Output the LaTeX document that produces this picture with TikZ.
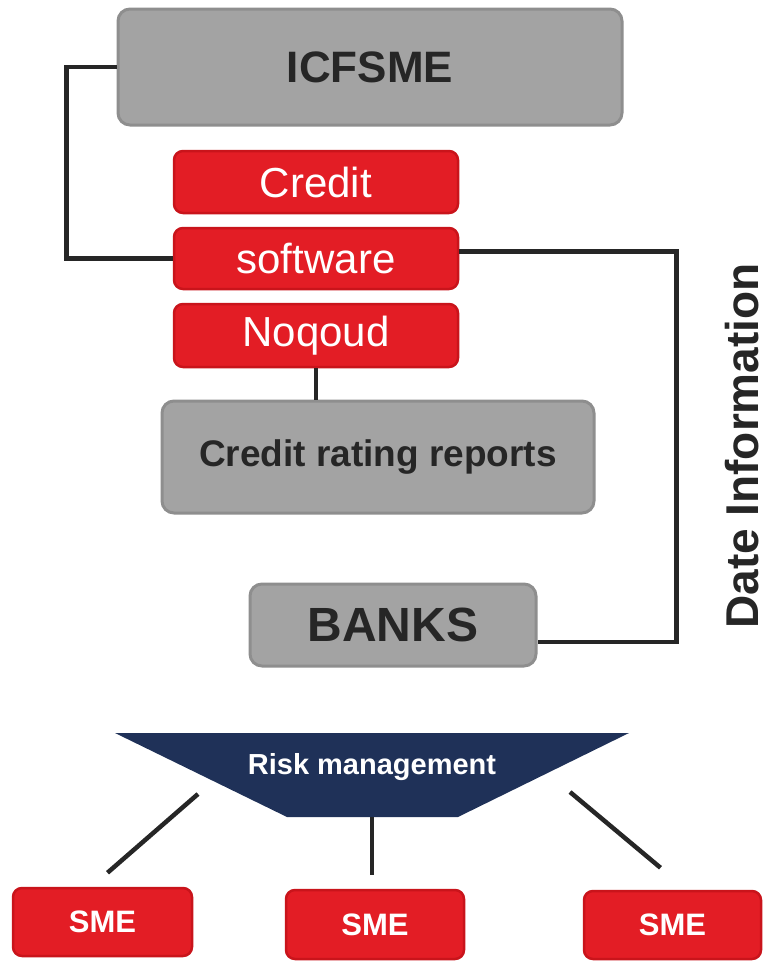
\documentclass[tikz,border=0pt]{standalone}
\usepackage{fontspec}
\setmainfont{Liberation Sans}
\usetikzlibrary{positioning}
\definecolor{boxred}{HTML}{E31D25}
\definecolor{boxredrim}{HTML}{C9141B}
\definecolor{boxgray}{HTML}{A3A3A3}
\definecolor{boxgrayrim}{HTML}{8E8E8E}
\definecolor{navy}{HTML}{1F3158}
\definecolor{ink}{HTML}{262626}
\begin{document}
\begin{tikzpicture}[x=1pt,y=-1pt,
	graybox/.style={draw=boxgrayrim, line width=3pt, fill=boxgray, rounded corners=12pt, text=ink, font=\bfseries},
	redbox/.style={draw=boxredrim, line width=2.5pt, fill=boxred, rounded corners=9pt, text=white},
	link/.style={draw=ink, line width=4.5pt}]
	\useasboundingbox (0,0) rectangle (769,964);
	%--- top part ---
	\node[graybox, minimum width=504pt, minimum height=116pt] (icfsme) at (370,67) {\fontsize{44}{50}\selectfont ICFSME};
	\node[redbox, minimum width=284pt, minimum height=62pt] (credit) at (316,182) {\fontsize{42}{48}\selectfont Credit};
	\node[redbox, minimum width=284pt, minimum height=61pt] (software) at (316,258.5) {\fontsize{42}{48}\selectfont software};
	\node[redbox, minimum width=284pt, minimum height=63pt] (noqoud) at (316,335.5) {\fontsize{42}{48}\selectfont Noqoud};
	\node[graybox, minimum width=432pt, minimum height=112pt] (rating) at (378,457) {\fontsize{37}{42}\selectfont Credit rating reports};
	\node[graybox, minimum width=286pt, minimum height=82pt] (banks) at (393,625) {\fontsize{48}{54}\selectfont BANKS};
	\node[rotate=90, text=ink, font=\bfseries, inner sep=0pt] (date) at (742,446) {\fontsize{46}{52}\selectfont Date Information};
	% connectors
	\draw[link] (icfsme.west) -- ++(-50,0) |- (software.west);
	\draw[link] ([yshift=7pt]software.east) -- ++(217,0) |- ([yshift=-17pt]banks.east);
	\draw[link] (noqoud.south) -- (noqoud.south |- rating.north);
	%--- risk management ---
	\fill[navy] (115,733) -- (629,733) -- (458,817) -- (287,817) -- cycle;
	\node[text=white, font=\bfseries] (risk) at (372,767) {\fontsize{29}{34}\selectfont Risk management};
	\coordinate (riskbot) at (372,817);
	\node[redbox, font=\bfseries, minimum width=179pt, minimum height=68pt] (sme1) at (102.5,922) {\fontsize{31}{36}\selectfont SME};
	\node[redbox, font=\bfseries, minimum width=178pt, minimum height=69pt] (sme2) at (375,924.5) {\fontsize{31}{36}\selectfont SME};
	\node[redbox, font=\bfseries, minimum width=177pt, minimum height=68pt] (sme3) at (672.5,925) {\fontsize{31}{36}\selectfont SME};
	\coordinate (l1) at (198,794);
	\coordinate (l3) at (570,792);
	\draw[link] (l1) -- ([xshift=5pt,yshift=14pt]sme1.north);
	\draw[link] (riskbot) -- ([yshift=14pt]riskbot |- sme2.north);
	\draw[link] (l3) -- ([xshift=-12pt,yshift=22pt]sme3.north);
\end{tikzpicture}
\end{document}
